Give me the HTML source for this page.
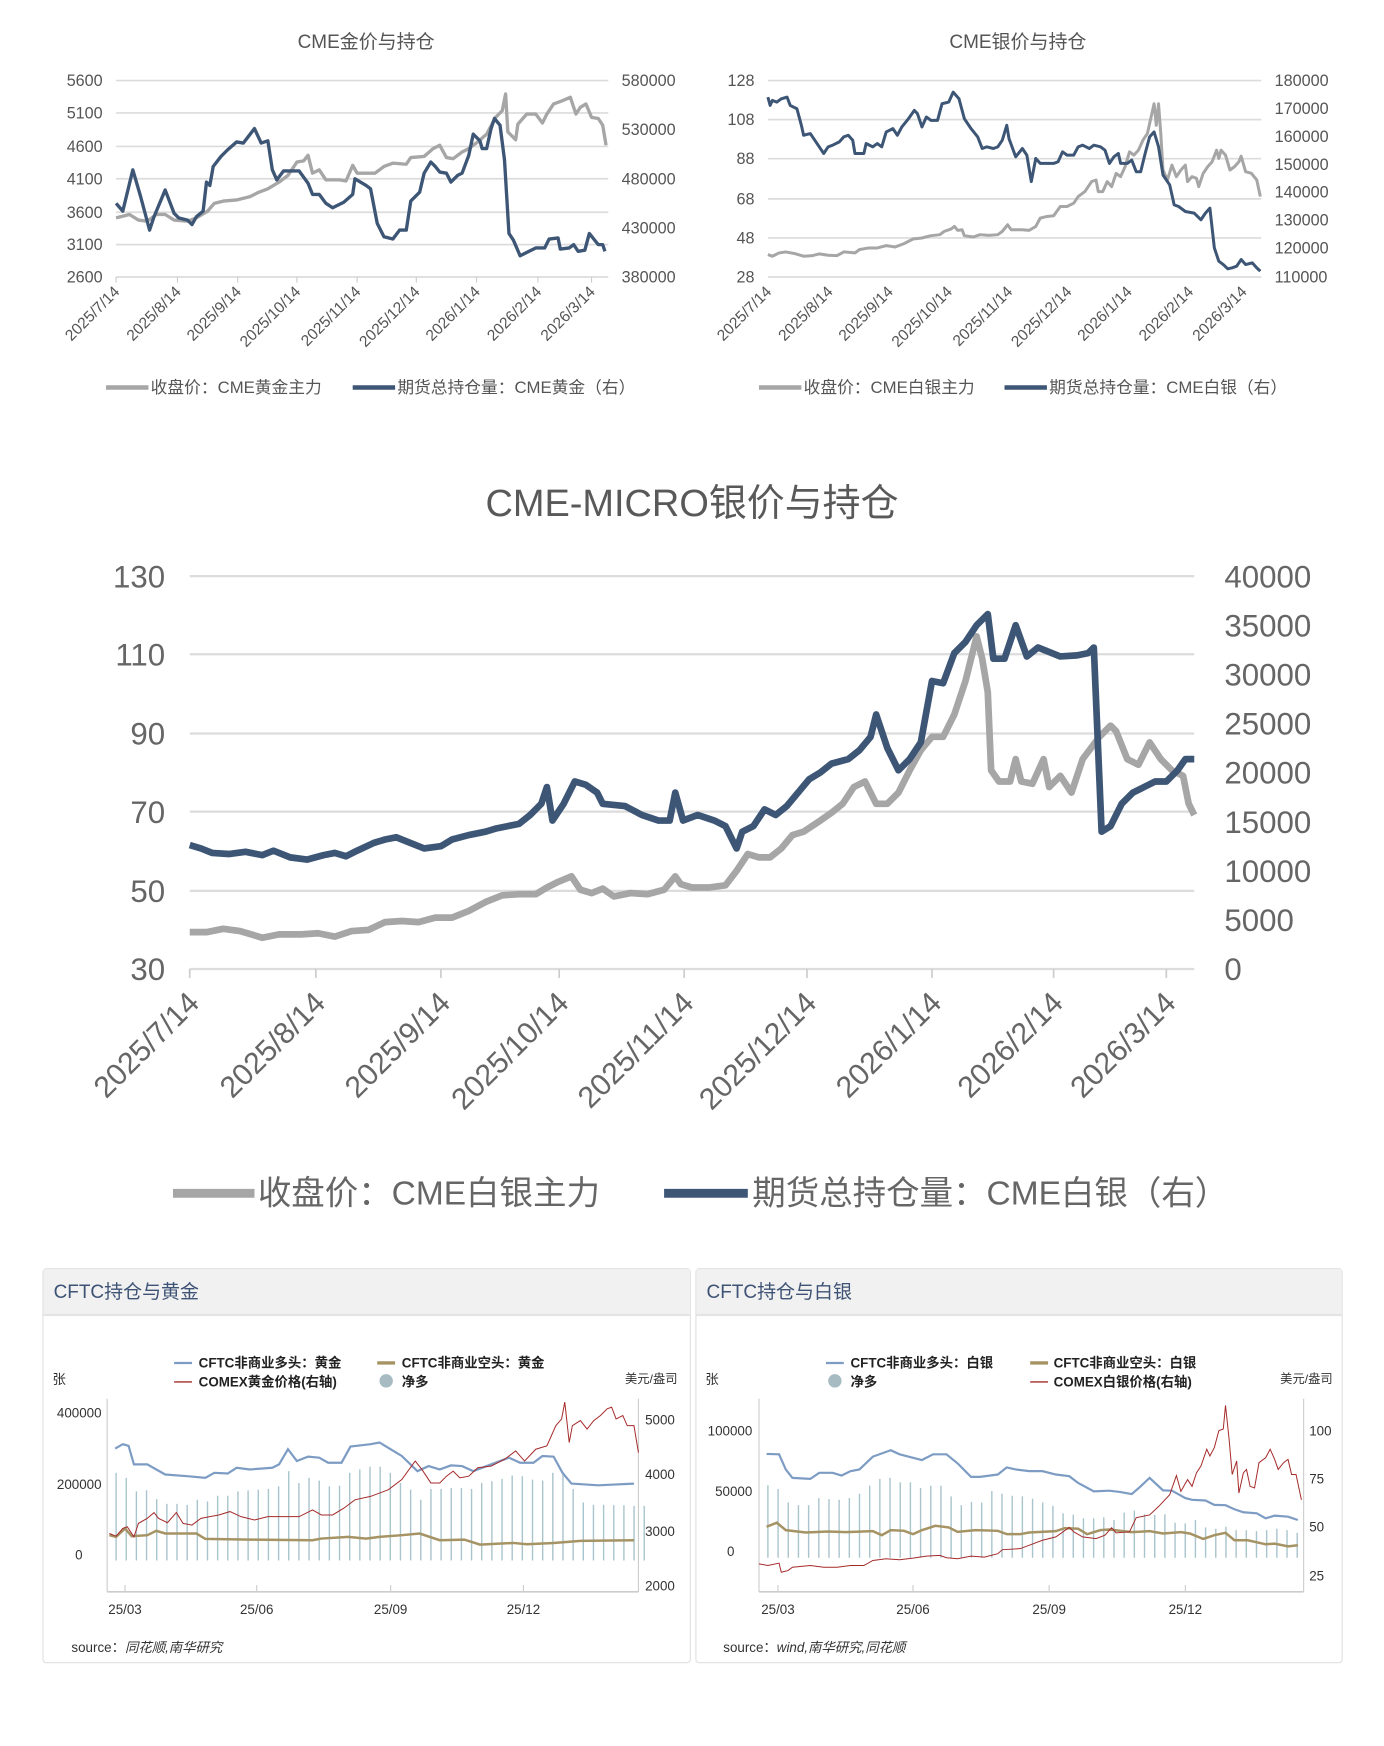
<!DOCTYPE html>
<html><head><meta charset="utf-8"><style>
html,body{margin:0;padding:0;background:#fff;}
svg{display:block;}
text{font-family:"Liberation Sans","Noto Sans CJK SC",sans-serif;}
</style></head><body>
<svg width="1384" height="1746" viewBox="0 0 1240 1564" xmlns="http://www.w3.org/2000/svg">
<rect width="1240" height="1564" fill="#fff"/>

<!-- ===== Chart 1: CME gold ===== -->
<text x="328" y="43" font-size="17" fill="#555" text-anchor="middle">CME金价与持仓</text>
<g stroke="#dcdcdc" stroke-width="1.5">
<line x1="104" y1="72" x2="545" y2="72"/><line x1="104" y1="101" x2="545" y2="101"/><line x1="104" y1="131" x2="545" y2="131"/><line x1="104" y1="160" x2="545" y2="160"/><line x1="104" y1="190" x2="545" y2="190"/><line x1="104" y1="219" x2="545" y2="219"/><line x1="104" y1="248" x2="545" y2="248"/>
</g>
<g stroke="#ccc" stroke-width="1"><line x1="104" y1="248" x2="104" y2="253"/><line x1="159" y1="248" x2="159" y2="253"/><line x1="213" y1="248" x2="213" y2="253"/><line x1="266" y1="248" x2="266" y2="253"/><line x1="320" y1="248" x2="320" y2="253"/><line x1="373" y1="248" x2="373" y2="253"/><line x1="427" y1="248" x2="427" y2="253"/><line x1="482" y1="248" x2="482" y2="253"/><line x1="530" y1="248" x2="530" y2="253"/></g>
<g font-size="14.5" fill="#555" text-anchor="end">
<text x="92" y="77">5600</text><text x="92" y="106">5100</text><text x="92" y="136">4600</text><text x="92" y="165">4100</text><text x="92" y="195">3600</text><text x="92" y="224">3100</text><text x="92" y="253">2600</text></g>
<g font-size="14.5" fill="#555">
<text x="557" y="77">580000</text><text x="557" y="121">530000</text><text x="557" y="165">480000</text><text x="557" y="209">430000</text><text x="557" y="253">380000</text></g>
<g font-size="14" fill="#555" text-anchor="end">
<text transform="translate(108,262) rotate(-45)">2025/7/14</text><text transform="translate(163,262) rotate(-45)">2025/8/14</text><text transform="translate(217,262) rotate(-45)">2025/9/14</text><text transform="translate(270,262) rotate(-45)">2025/10/14</text><text transform="translate(324,262) rotate(-45)">2025/11/14</text><text transform="translate(377,262) rotate(-45)">2025/12/14</text><text transform="translate(431,262) rotate(-45)">2026/1/14</text><text transform="translate(486,262) rotate(-45)">2026/2/14</text><text transform="translate(534,262) rotate(-45)">2026/3/14</text></g>
<polyline fill="none" stroke="#a6a6a6" stroke-width="3" stroke-linejoin="round" points="104,195 116,192 124,197 132,198 140,192 148,192 156,197 168,198 176,195 186,189 192,182 200,180 212,179 224,176 232,172 240,169 250,163 258,157 266,145 272,144 276,139 280,155 286,152 292,161 304,161 310,162 316,148 320,155 336,155 344,149 352,146 364,147 368,141 380,140 388,133 394,130 400,141 406,142 414,136 420,133 428,127 436,120 444,105 450,99 453,84 455,118 462,125 464,111 472,102 480,102 486,110 490,102 496,93 504,90 511,87 516,102 520,96 525,93 530,105 536,106 540,112 543,130"/>
<polyline fill="none" stroke="#3e5676" stroke-width="3" stroke-linejoin="round" points="104,182 110,189 119,152 126,176 134,206 138,194 148,170 156,191 160,195 168,197 172,201 176,194 182,189 185,163 188,166 191,149 198,140 204,134 212,127 218,128 228,115 234,128 240,126 244,152 248,161 254,153 268,153 276,164 280,174 286,174 292,182 298,186 308,181 316,174 318,160 328,166 332,169 338,200 344,212 352,214 358,206 364,206 368,180 376,172 380,155 386,145 390,149 394,154 400,155 404,163 410,157 414,155 420,139 424,120 430,126 432,133 436,133 440,115 443,106 448,112 452,143 456,209 460,215 466,229 472,226 480,222 488,222 492,214 500,213 502,223 510,222 514,219 518,225 524,224 528,209 536,219 540,219 542,225"/>
<line x1="95" y1="347" x2="133" y2="347" stroke="#a6a6a6" stroke-width="4"/>
<text x="135" y="352" font-size="15" fill="#555">收盘价：CME黄金主力</text>
<line x1="316" y1="347" x2="354" y2="347" stroke="#3e5676" stroke-width="4"/>
<text x="356" y="352" font-size="15" fill="#555">期货总持仓量：CME黄金（右）</text>

<!-- ===== Chart 2: CME silver ===== -->
<text x="912" y="43" font-size="17" fill="#555" text-anchor="middle">CME银价与持仓</text>
<g stroke="#dcdcdc" stroke-width="1.5">
<line x1="688" y1="72" x2="1130" y2="72"/><line x1="688" y1="107" x2="1130" y2="107"/><line x1="688" y1="142" x2="1130" y2="142"/><line x1="688" y1="178" x2="1130" y2="178"/><line x1="688" y1="213" x2="1130" y2="213"/><line x1="688" y1="248" x2="1130" y2="248"/></g>
<g font-size="14.5" fill="#555" text-anchor="end">
<text x="676" y="77">128</text><text x="676" y="112">108</text><text x="676" y="147">88</text><text x="676" y="183">68</text><text x="676" y="218">48</text><text x="676" y="253">28</text></g>
<g font-size="14.5" fill="#555">
<text x="1142" y="77">180000</text><text x="1142" y="102">170000</text><text x="1142" y="127">160000</text><text x="1142" y="152">150000</text><text x="1142" y="177">140000</text><text x="1142" y="202">130000</text><text x="1142" y="227">120000</text><text x="1142" y="253">110000</text></g>
<g font-size="14" fill="#555" text-anchor="end">
<text transform="translate(692,262) rotate(-45)">2025/7/14</text><text transform="translate(747,262) rotate(-45)">2025/8/14</text><text transform="translate(801,262) rotate(-45)">2025/9/14</text><text transform="translate(854,262) rotate(-45)">2025/10/14</text><text transform="translate(908,262) rotate(-45)">2025/11/14</text><text transform="translate(961,262) rotate(-45)">2025/12/14</text><text transform="translate(1015,262) rotate(-45)">2026/1/14</text><text transform="translate(1070,262) rotate(-45)">2026/2/14</text><text transform="translate(1118,262) rotate(-45)">2026/3/14</text></g>
<g transform="translate(618,0.72) scale(0.4,0.297)">
<polyline fill="none" stroke="#a6a6a6" stroke-width="3" vector-effect="non-scaling-stroke" stroke-linejoin="round" points="175,765 185,770 200,760 215,757 235,762 255,770 275,768 290,763 310,767 330,768 345,757 370,760 380,750 400,745 420,745 440,738 460,742 480,732 500,718 520,715 540,708 560,705 570,695 585,688 593,680 600,692 610,690 615,708 635,712 650,705 670,707 690,705 700,695 712,675 720,690 745,690 760,692 775,680 785,655 800,650 815,648 830,620 845,620 860,610 870,590 885,575 900,545 910,540 915,575 925,575 935,545 945,560 955,520 965,530 975,500 985,455 995,465 1005,450 1015,420 1025,400 1035,340 1040,310 1045,375 1050,310 1055,400 1060,510 1070,540 1080,495 1090,530 1100,510 1110,495 1115,545 1125,530 1135,535 1140,560 1150,520 1160,500 1170,485 1180,450 1185,475 1190,450 1200,465 1210,510 1220,500 1230,485 1235,468 1245,515 1258,520 1270,540 1278,590"/>
<polyline fill="none" stroke="#3e5676" stroke-width="3" vector-effect="non-scaling-stroke" stroke-linejoin="round" points="175,290 180,315 185,300 195,305 205,295 218,290 225,315 240,325 250,375 255,405 270,400 280,420 290,440 300,460 310,440 320,435 335,425 345,410 355,405 365,420 370,460 390,460 395,430 410,440 420,430 430,440 440,395 455,385 465,405 475,380 490,355 503,330 510,340 520,380 530,350 540,360 555,360 565,310 580,305 590,275 603,295 615,355 630,385 645,410 655,445 665,440 680,445 690,440 700,420 710,375 715,415 730,470 745,445 755,465 765,545 775,475 785,490 800,490 815,490 825,485 835,455 845,465 860,465 870,440 880,435 895,445 905,435 920,440 930,450 940,490 950,470 960,460 965,490 980,490 990,480 1000,515 1010,515 1020,460 1030,410 1040,395 1050,440 1060,525 1075,555 1085,615 1095,620 1110,635 1130,640 1145,660 1155,640 1165,625 1175,745 1185,785 1195,795 1205,808 1215,805 1225,800 1235,780 1245,795 1260,790 1270,805 1278,815"/>
</g>
<line x1="680" y1="347" x2="718" y2="347" stroke="#a6a6a6" stroke-width="4"/>
<text x="720" y="352" font-size="15" fill="#555">收盘价：CME白银主力</text>
<line x1="900" y1="347" x2="938" y2="347" stroke="#3e5676" stroke-width="4"/>
<text x="940" y="352" font-size="15" fill="#555">期货总持仓量：CME白银（右）</text>

<!-- ===== Chart 3: CME-MICRO ===== -->
<text x="620" y="462" font-size="34" fill="#595959" text-anchor="middle">CME-MICRO银价与持仓</text>
<g stroke="#dcdcdc" stroke-width="2">
<line x1="170" y1="516" x2="1070" y2="516"/><line x1="170" y1="586" x2="1070" y2="586"/><line x1="170" y1="657" x2="1070" y2="657"/><line x1="170" y1="727" x2="1070" y2="727"/><line x1="170" y1="798" x2="1070" y2="798"/><line x1="170" y1="868" x2="1070" y2="868"/></g>
<g stroke="#ccc" stroke-width="1.5"><line x1="170" y1="868" x2="170" y2="876"/><line x1="283" y1="868" x2="283" y2="876"/><line x1="395" y1="868" x2="395" y2="876"/><line x1="501" y1="868" x2="501" y2="876"/><line x1="613" y1="868" x2="613" y2="876"/><line x1="723" y1="868" x2="723" y2="876"/><line x1="835" y1="868" x2="835" y2="876"/><line x1="944" y1="868" x2="944" y2="876"/><line x1="1045" y1="868" x2="1045" y2="876"/></g>
<g font-size="28" fill="#666" text-anchor="end">
<text x="148" y="526">130</text><text x="148" y="596">110</text><text x="148" y="667">90</text><text x="148" y="737">70</text><text x="148" y="808">50</text><text x="148" y="878">30</text></g>
<g font-size="28" fill="#666">
<text x="1097" y="526">40000</text><text x="1097" y="570">35000</text><text x="1097" y="614">30000</text><text x="1097" y="658">25000</text><text x="1097" y="702">20000</text><text x="1097" y="746">15000</text><text x="1097" y="790">10000</text><text x="1097" y="834">5000</text><text x="1097" y="878">0</text></g>
<g font-size="27" fill="#666" text-anchor="end">
<text transform="translate(180,900) rotate(-45)">2025/7/14</text><text transform="translate(293,900) rotate(-45)">2025/8/14</text><text transform="translate(405,900) rotate(-45)">2025/9/14</text><text transform="translate(511,900) rotate(-45)">2025/10/14</text><text transform="translate(623,900) rotate(-45)">2025/11/14</text><text transform="translate(733,900) rotate(-45)">2025/12/14</text><text transform="translate(845,900) rotate(-45)">2026/1/14</text><text transform="translate(954,900) rotate(-45)">2026/2/14</text><text transform="translate(1055,900) rotate(-45)">2026/3/14</text></g>
<polyline fill="none" stroke="#a6a6a6" stroke-width="6" stroke-linejoin="round" points="170,835 185,835 200,832 215,834 235,840 250,837 270,837 285,836 300,839 315,834 330,833 345,826 360,825 375,826 390,822 405,822 420,816 435,808 450,802 465,801 480,801 490,795 500,790 512,785 520,797 530,800 540,796 550,803 565,800 580,801 595,797 605,785 610,792 620,795 635,795 650,793 660,780 670,765 680,768 690,768 700,760 710,748 720,745 735,735 745,728 755,720 765,705 775,700 785,720 795,720 805,710 815,690 825,672 835,660 845,660 855,640 865,610 875,570 880,590 885,620 888,690 895,700 905,700 910,680 915,700 925,702 935,680 940,705 950,695 960,710 970,680 985,660 995,650 1000,655 1010,680 1020,685 1030,665 1040,680 1050,690 1060,695 1065,720 1070,730"/>
<polyline fill="none" stroke="#3e5676" stroke-width="6" stroke-linejoin="round" points="170,757 180,760 190,764 205,765 220,763 235,766 245,762 260,768 275,770 290,766 300,764 310,767 320,762 335,755 345,752 355,750 365,754 380,760 395,758 405,752 420,748 435,745 445,742 455,740 465,738 475,730 485,720 490,705 495,735 505,720 515,700 525,703 535,710 540,720 560,722 575,730 590,735 600,735 605,710 612,735 625,730 640,735 650,740 660,760 665,745 675,740 685,725 695,730 705,722 715,710 725,698 735,692 745,684 760,680 770,672 780,660 785,640 795,670 805,690 815,680 825,665 835,610 845,612 855,585 865,575 875,560 885,550 890,590 900,590 910,560 920,588 930,580 940,584 950,588 965,587 975,585 980,580 987,745 995,740 1005,720 1015,710 1025,705 1035,700 1045,700 1055,690 1062,680 1070,680"/>
<line x1="155" y1="1069" x2="228" y2="1069" stroke="#a6a6a6" stroke-width="8"/>
<text x="231" y="1079" font-size="30" fill="#666">收盘价：CME白银主力</text>
<line x1="595" y1="1069" x2="670" y2="1069" stroke="#3e5676" stroke-width="8"/>
<text x="674" y="1079" font-size="30" fill="#666">期货总持仓量：CME白银（右）</text>

<!-- ===== Panel: CFTC gold ===== -->
<rect x="38.5" y="1136.5" width="580" height="353" rx="3" fill="#fff" stroke="#e0e0e0"/>
<rect x="39" y="1137" width="579" height="41" fill="#f1f1f1"/>
<line x1="39" y1="1178" x2="618" y2="1178" stroke="#e4e4e4" stroke-width="2"/>
<text x="48" y="1163" font-size="17" fill="#3d5275">CFTC持仓与黄金</text>
<g font-size="12" fill="#222" font-weight="bold">
<line x1="156" y1="1221" x2="172" y2="1221" stroke="#7d9cc4" stroke-width="2"/><text x="178" y="1225">CFTC非商业多头：黄金</text>
<line x1="338" y1="1221" x2="354" y2="1221" stroke="#a59364" stroke-width="3"/><text x="360" y="1225">CFTC非商业空头：黄金</text>
<line x1="156" y1="1238" x2="172" y2="1238" stroke="#a52a2a" stroke-width="1.2"/><text x="178" y="1242">COMEX黄金价格(右轴)</text>
<circle cx="346" cy="1237" r="6" fill="#a6bcc2"/><text x="360" y="1242">净多</text></g>
<text x="47" y="1240" font-size="12" fill="#333">张</text>
<text x="607" y="1239" font-size="11" fill="#333" text-anchor="end">美元/盎司</text>
<line x1="96" y1="1253" x2="96" y2="1426" stroke="#ccc"/><line x1="96" y1="1426" x2="572" y2="1426" stroke="#ccc" stroke-width="1.5"/><line x1="572" y1="1253" x2="572" y2="1426" stroke="#ccc"/>
<g font-size="12" fill="#333" text-anchor="end"><text x="91" y="1270">400000</text><text x="91" y="1334">200000</text><text x="74" y="1397">0</text></g>
<g font-size="12" fill="#333"><text x="578" y="1276">5000</text><text x="578" y="1325">4000</text><text x="578" y="1376">3000</text><text x="578" y="1425">2000</text></g>
<g font-size="12" fill="#333" text-anchor="middle"><text x="112" y="1446">25/03</text><text x="230" y="1446">25/06</text><text x="350" y="1446">25/09</text><text x="469" y="1446">25/12</text></g>
<g stroke="#ccc"><line x1="112" y1="1420" x2="112" y2="1426"/><line x1="230" y1="1420" x2="230" y2="1426"/><line x1="350" y1="1420" x2="350" y2="1426"/><line x1="469" y1="1420" x2="469" y2="1426"/></g>
<g transform="translate(0,1120.1) scale(0.4,0.302)">
<g stroke="#a8c4cc" stroke-width="1.4" vector-effect="non-scaling-stroke" id="gb"></g>
<polyline fill="none" stroke="#7d9cc4" stroke-width="2.2" vector-effect="non-scaling-stroke" points="258,588 275,575 288,580 300,635 330,635 370,665 420,670 460,675 480,660 510,662 530,645 560,650 610,645 625,635 645,590 665,625 690,612 715,615 735,630 765,630 785,582 830,575 850,570 900,610 935,655 960,640 985,650 1010,638 1035,640 1060,655 1090,640 1120,625 1140,615 1165,630 1195,630 1215,610 1240,612 1260,660 1280,692 1340,697 1420,692"/>
<polyline fill="none" stroke="#a59364" stroke-width="2.5" vector-effect="non-scaling-stroke" points="245,845 260,850 280,825 295,848 330,845 350,832 370,840 440,840 460,856 560,858 700,860 720,855 780,850 820,855 850,850 900,845 940,840 985,860 1040,858 1075,873 1150,868 1180,872 1240,868 1300,862 1420,860"/>
<polyline fill="none" stroke="#a52a2a" stroke-width="1" vector-effect="non-scaling-stroke" points="245,840 260,848 275,825 285,820 300,850 310,810 330,795 345,778 355,795 375,808 395,778 410,810 430,815 450,795 470,790 490,785 515,775 540,790 570,800 600,790 640,790 670,790 700,770 720,785 745,785 770,765 795,740 830,730 870,710 900,680 930,625 945,650 965,690 985,690 1000,670 1015,655 1030,675 1050,670 1070,645 1100,640 1130,620 1155,595 1175,625 1200,590 1225,580 1245,520 1258,500 1265,450 1275,570 1282,520 1300,505 1315,530 1330,505 1345,490 1360,470 1370,465 1380,500 1395,490 1405,520 1420,520 1430,600"/>
</g>
<text x="64" y="1480" font-size="12" fill="#333">source：<tspan font-style="italic">同花顺,南华研究</tspan></text>

<!-- ===== Panel: CFTC silver ===== -->
<rect x="623.5" y="1136.5" width="579" height="353" rx="3" fill="#fff" stroke="#e0e0e0"/>
<rect x="624" y="1137" width="578" height="41" fill="#f1f1f1"/>
<line x1="624" y1="1178" x2="1202" y2="1178" stroke="#e4e4e4" stroke-width="2"/>
<text x="633" y="1163" font-size="17" fill="#3d5275">CFTC持仓与白银</text>
<g font-size="12" fill="#222" font-weight="bold">
<line x1="740" y1="1221" x2="756" y2="1221" stroke="#7d9cc4" stroke-width="2"/><text x="762" y="1225">CFTC非商业多头：白银</text>
<line x1="923" y1="1221" x2="939" y2="1221" stroke="#a59364" stroke-width="3"/><text x="944" y="1225">CFTC非商业空头：白银</text>
<circle cx="748" cy="1237" r="6" fill="#a6bcc2"/><text x="762" y="1242">净多</text>
<line x1="923" y1="1238" x2="939" y2="1238" stroke="#a52a2a" stroke-width="1.2"/><text x="944" y="1242">COMEX白银价格(右轴)</text></g>
<text x="632" y="1240" font-size="12" fill="#333">张</text>
<text x="1194" y="1239" font-size="11" fill="#333" text-anchor="end">美元/盎司</text>
<line x1="680" y1="1253" x2="680" y2="1426" stroke="#ccc"/><line x1="680" y1="1426" x2="1168" y2="1426" stroke="#ccc" stroke-width="1.5"/><line x1="1168" y1="1253" x2="1168" y2="1426" stroke="#ccc"/>
<g font-size="12" fill="#333" text-anchor="end"><text x="674" y="1286">100000</text><text x="674" y="1340">50000</text><text x="658" y="1394">0</text></g>
<g font-size="12" fill="#333"><text x="1173" y="1286">100</text><text x="1173" y="1329">75</text><text x="1173" y="1372">50</text><text x="1173" y="1416">25</text></g>
<g font-size="12" fill="#333" text-anchor="middle"><text x="697" y="1446">25/03</text><text x="818" y="1446">25/06</text><text x="940" y="1446">25/09</text><text x="1062" y="1446">25/12</text></g>
<g stroke="#ccc"><line x1="697" y1="1420" x2="697" y2="1426"/><line x1="818" y1="1420" x2="818" y2="1426"/><line x1="940" y1="1420" x2="940" y2="1426"/><line x1="1062" y1="1420" x2="1062" y2="1426"/></g>
<g transform="translate(618,1120.1) scale(0.4,0.302)">
<g stroke="#a8c4cc" stroke-width="1.4" vector-effect="non-scaling-stroke" id="sb"></g>
<polyline fill="none" stroke="#7d9cc4" stroke-width="2.2" vector-effect="non-scaling-stroke" points="172,604 200,605 215,650 230,675 270,678 290,660 320,660 340,668 360,655 380,650 410,612 450,593 470,605 520,622 545,605 575,605 600,632 630,672 650,672 690,665 710,644 730,650 760,655 790,655 820,665 850,670 870,690 905,715 940,713 965,717 990,723 1010,700 1030,675 1060,712 1080,713 1110,735 1125,740 1155,742 1175,755 1200,756 1220,768 1240,777 1270,780 1290,795 1310,787 1340,790 1362,800"/>
<polyline fill="none" stroke="#a59364" stroke-width="2.5" vector-effect="non-scaling-stroke" points="172,820 195,808 215,830 260,837 310,834 350,836 410,833 430,845 450,830 480,832 500,842 520,830 550,817 580,822 600,835 640,830 690,832 710,842 740,842 760,837 820,833 840,824 870,826 890,842 920,830 940,828 970,833 990,836 1030,833 1060,840 1100,836 1120,840 1150,856 1175,845 1200,838 1220,860 1250,860 1290,872 1310,870 1340,878 1362,875"/>
<polyline fill="none" stroke="#a52a2a" stroke-width="1" vector-effect="non-scaling-stroke" points="155,930 175,935 200,928 205,955 220,950 230,940 270,935 300,940 330,940 360,935 390,935 410,920 440,915 470,918 500,913 530,907 560,905 575,912 600,915 630,907 660,910 690,900 700,888 740,885 760,875 790,860 820,850 850,822 860,835 880,850 910,855 930,845 945,823 955,838 985,835 1000,793 1030,785 1050,760 1075,725 1090,668 1100,715 1115,680 1125,700 1135,660 1145,640 1158,590 1165,610 1175,585 1185,535 1195,530 1200,460 1208,560 1215,665 1225,625 1230,720 1240,660 1247,650 1255,700 1265,705 1275,630 1290,615 1300,590 1310,620 1318,650 1330,630 1340,620 1348,665 1358,665 1370,740"/>
</g>
<text x="648" y="1480" font-size="12" fill="#333">source：<tspan font-style="italic">wind,南华研究,同花顺</tspan></text>
</svg>
<script>
(function(){
var ns="http://www.w3.org/2000/svg";
function bars(id,x0,step,tops,bottom){
 var g=document.getElementById(id);
 for(var i=0;i<tops.length;i++){
  var l=document.createElementNS(ns,"line");
  var x=x0+i*step;
  l.setAttribute("x1",x);l.setAttribute("x2",x);
  l.setAttribute("y1",tops[i]);l.setAttribute("y2",bottom);
  l.setAttribute("vector-effect","non-scaling-stroke");
  g.appendChild(l);
 }
}
bars("gb",260,22.75,[660,675,715,712,738,752,752,755,740,745,728,728,715,712,710,708,700,655,690,675,683,700,698,660,650,642,642,660,690,710,740,708,708,705,705,708,690,685,678,668,670,680,683,660,665,708,748,755,755,756,756,758,758],920);
bars("sb",175,22.8,[697,708,748,756,756,735,738,740,735,722,698,678,675,688,688,705,698,698,730,756,746,748,714,722,728,730,737,748,758,780,784,795,795,792,800,778,772,783,785,783,808,810,800,822,826,820,830,830,833,830,826,830,838],912);
})();
</script>
</body></html>
